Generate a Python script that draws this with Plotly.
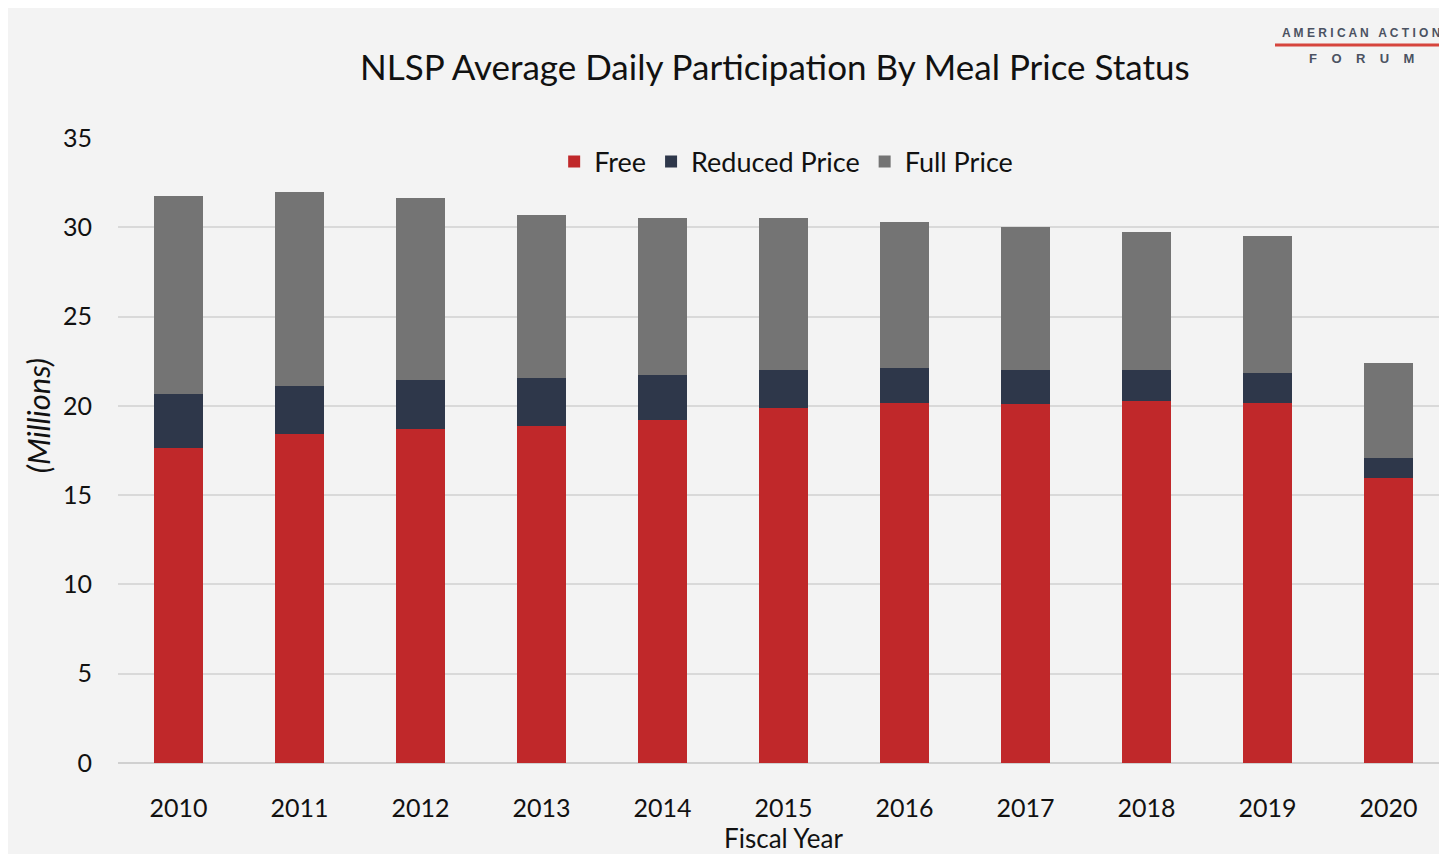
import plotly.graph_objects as go

years = ["2010", "2011", "2012", "2013", "2014", "2015", "2016", "2017", "2018", "2019", "2020"]
free = [17.64, 18.42, 18.70, 18.87, 19.20, 19.88, 20.16, 20.10, 20.27, 20.16, 15.96]
reduced = [3.02, 2.69, 2.74, 2.69, 2.52, 2.12, 1.96, 1.90, 1.73, 1.68, 1.12]
full = [11.09, 10.86, 10.20, 9.12, 8.79, 8.51, 8.17, 8.01, 7.73, 7.67, 5.32]

FONT = "Lato, Open Sans, sans-serif"
TXT = "#111111"

fig = go.Figure()
fig.add_trace(go.Bar(name="Free", x=years, y=free, marker_color="#c0282a"))
fig.add_trace(go.Bar(name="Reduced Price", x=years, y=reduced, marker_color="#2e374a"))
fig.add_trace(go.Bar(name="Full Price", x=years, y=full, marker_color="#747474"))

fig.update_traces(marker_line_width=0)

fig.update_layout(
    barmode="stack",
    bargap=0.6,
    width=1447, height=854,
    margin=dict(l=110, r=6, t=130, b=99),
    paper_bgcolor="#f3f3f3",
    plot_bgcolor="#f3f3f3",
    title=dict(text="NLSP Average Daily Participation By Meal Price Status",
               font=dict(family=FONT, size=35, color=TXT),
               x=0.530, xanchor="center", y=1 - 60 / 854, yanchor="middle"),
    legend=dict(orientation="h", x=0.502, xanchor="center", y=0.9616, yanchor="middle",
                font=dict(family=FONT, size=27, color=TXT),
                bgcolor="rgba(0,0,0,0)", traceorder="normal"),
    showlegend=True,
)

fig.update_xaxes(
    type="category", range=[-0.5, 10.5],
    showgrid=False, showline=False, zeroline=False,
    ticks="outside", ticklen=23, tickcolor="rgba(0,0,0,0)",
    tickfont=dict(family=FONT, size=25, color=TXT),
    title=dict(text="Fiscal Year", font=dict(family=FONT, size=26, color=TXT), standoff=2),
)
fig.update_yaxes(
    range=[0, 35], dtick=5, tick0=0,
    showgrid=True, gridcolor="#d9d9d9", gridwidth=2,
    zeroline=True, zerolinecolor="#d0d0d0", zerolinewidth=2,
    showline=False,
    ticks="outside", ticklen=20, tickcolor="rgba(0,0,0,0)",
    tickfont=dict(family=FONT, size=25, color=TXT),
)

# y-axis title as annotation for exact placement
fig.add_annotation(text="<i>(Millions)</i>", xref="paper", yref="paper",
                   x=(30 - 110) / 1331, y=0.555, xanchor="center", yanchor="middle",
                   textangle=-90, showarrow=False,
                   font=dict(family=FONT, size=31, color=TXT))

# logo
fig.add_annotation(text="<b>A M E R I C A N   A C T I O N</b>", xref="paper", yref="paper",
                   x=(1353 - 110) / 1331, y=(755 - 25) / 625, xanchor="center", yanchor="middle",
                   showarrow=False, font=dict(family="Liberation Sans, Arial, sans-serif", size=12, color="#4b5262"))
fig.add_shape(type="line", xref="paper", yref="paper",
              x0=(1267 - 110) / 1331, x1=(1450 - 110) / 1331, y0=(755 - 37) / 625, y1=(755 - 37) / 625,
              line=dict(color="#d6453d", width=3))
fig.add_annotation(text="<b>F    O    R    U    M</b>", xref="paper", yref="paper",
                   x=(1353 - 110) / 1331, y=(755 - 50) / 625, xanchor="center", yanchor="middle",
                   showarrow=False, font=dict(family="Liberation Sans, Arial, sans-serif", size=13, color="#4b5262"))

fig.write_html("out.html")
